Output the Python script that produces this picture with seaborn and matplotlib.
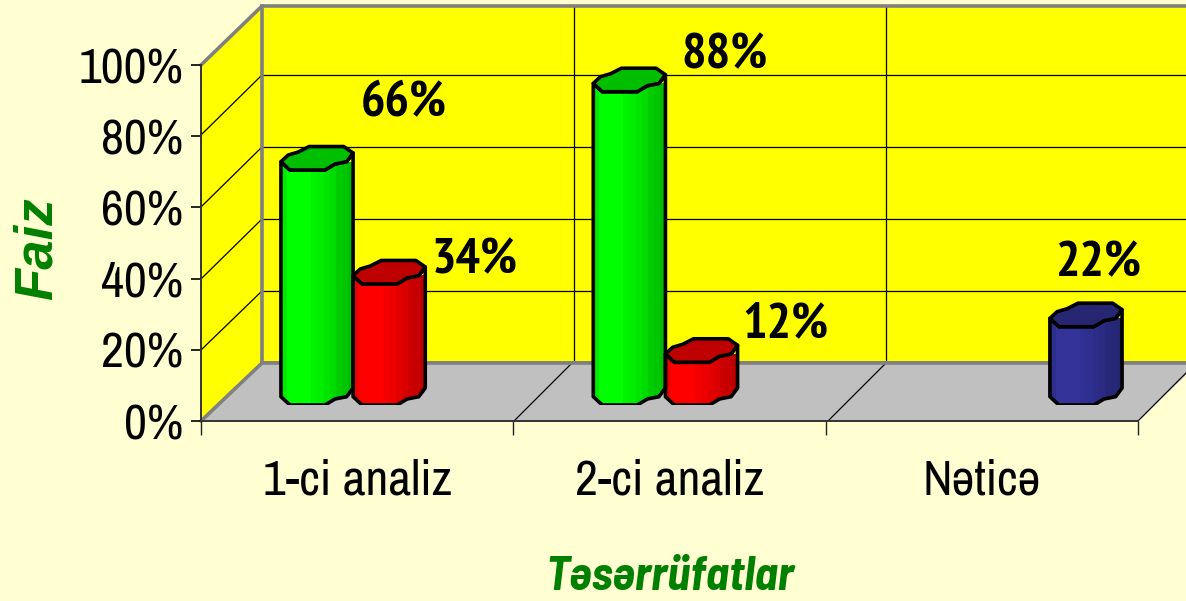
import numpy as np
import pandas as pd
import matplotlib.pyplot as plt
from matplotlib.patches import Polygon
import seaborn as sns

# data
kateqoriyalar = ['1-ci analiz', '2-ci analiz', 'Nəticə']
seriya_adlari = ['A', 'B', 'C']
seriya_a = [66, 88, np.nan]
seriya_b = [34, 12, np.nan]
seriya_c = [np.nan, np.nan, 22]
y_ticks = [0, 20, 40, 60, 80, 100]

W, H = 1186, 601
BG = '#FFFFD2'
NARROW = ['Archivo Narrow', 'Liberation Sans', 'DejaVu Sans']
BOLD = ['PT Sans Narrow', 'Liberation Sans', 'DejaVu Sans']
TITLE = ['Barlow Semi Condensed', 'Liberation Sans', 'DejaVu Sans']

sns.set_theme(style='white')
plt.rcParams['font.family'] = NARROW

df = pd.DataFrame({
    'kat': kateqoriyalar * 3,
    'seriya': [s for s in seriya_adlari for _ in kateqoriyalar],
    'faiz': seriya_a + seriya_b + seriya_c,
})


def rect(x0, x1, y_top, y_bot):
    return [x0 / W, 1 - y_bot / H, (x1 - x0) / W, (y_bot - y_top) / H]


fig = plt.figure(figsize=(W / 100, H / 100), dpi=100, facecolor=BG)

# left wall in pixel coords
bg = fig.add_axes([0, 0, 1, 1], zorder=0)
bg.set_xlim(0, W)
bg.set_ylim(H, 0)
bg.axis('off')
bg.add_patch(Polygon([(201, 65), (262, 6), (262, 363), (201, 421)], fc='#FFFF00', ec='none'))
for y0, y1 in zip([350, 279, 207, 135], [291, 219, 147, 75]):
    bg.plot([201, 262], [y0, y1], color='black', lw=0.9)
bg.plot([201, 262], [65, 6], color='#808080', lw=2.6)

# back wall
wall = fig.add_axes(rect(262, W, 6, 363), zorder=1, facecolor='#FFFF00')
wall.set_xlim(-0.497, 2.46)
wall.set_ylim(0, 99)
wall.set_xticks([0.5, 1.5])
wall.set_yticks([20, 40, 60, 80])
wall.tick_params(length=0, labelleft=False, labelbottom=False)
wall.grid(True, color='black', lw=0.9)
for s in ['left', 'top', 'bottom']:
    wall.spines[s].set_color('#808080')
    wall.spines[s].set_linewidth(2.6)
wall.spines['right'].set_visible(False)

# floor, on top of the wall's lower edge
floor = fig.add_axes([0, 0, 1, 1], zorder=2, facecolor='none')
floor.set_xlim(0, W)
floor.set_ylim(H, 0)
floor.axis('off')
floor.add_patch(Polygon([(201, 421), (262, 363), (1186, 363), (1186, 375), (1138, 421)], fc='#C0C0C0', ec='none'))
for x0, x1 in [(514, 573), (828, 886), (1138, 1186)]:
    floor.plot([x0, x1], [421, 421 - (x1 - x0)], color='black', lw=0.9)
floor.plot([262, 1186], [363, 363], color='#808080', lw=2.6)
floor.plot([201, 262], [421, 363], color='#808080', lw=2.6)

# front axis with the ticks and labels
ax = fig.add_axes(rect(201, 1138, 65, 421), zorder=3, facecolor='none')
ax.set_xlim(-0.5, 2.5)
ax.set_ylim(0, 100)
ax.set_xticks(range(3))
ax.set_xticklabels(kateqoriyalar, fontsize=36)
ax.set_xticks([-0.5, 0.5, 1.5, 2.5], minor=True)
ax.set_yticks(y_ticks)
ax.set_yticklabels([f'{v}%' for v in y_ticks], fontsize=36)
ax.tick_params(axis='x', which='major', length=0, pad=27, colors='black')
ax.tick_params(axis='x', which='minor', length=10, width=1, color='#222222', bottom=True)
ax.tick_params(axis='y', length=7, width=1.2, pad=6, left=True, colors='black')
for s in ['top', 'right']:
    ax.spines[s].set_visible(False)
ax.spines['left'].set_color('#333333')
ax.spines['left'].set_linewidth(1.4)
ax.spines['bottom'].set_color('#333333')
ax.spines['bottom'].set_linewidth(1.4)

# bars, shifted back onto the floor
ax_bar = fig.add_axes(rect(233, 1170, 49, 405), zorder=4, facecolor='none')
sns.barplot(data=df, x='kat', y='faiz', hue='seriya', hue_order=seriya_adlari,
            palette=['#00FF00', '#FF0000', '#333399'], width=0.693, gap=0,
            legend=False, saturation=1, ax=ax_bar)
ax_bar.axis('off')

# cylinder outline: (fraction of width, pixels above the front edge)
on_kenar = [(0, 8.3), (.125, 0), (.61, 0), (.75, 6), (.91, 8.3), (1, 17)]
arxa_kenar = [(.89, 22.5), (.87, 23.5), (.39, 23.5), (.24, 18), (.10, 15)]
kolge = np.array([.92, 1, 1, 1, 1, .96, .94, .90, .86, .80, .78, .74])[None, :, None]
px = 100 / 356

for bar in list(ax_bar.patches):
    v = bar.get_height()
    if not v > 0:
        continue
    x, w = bar.get_x(), bar.get_width()
    rgb = np.array(bar.get_facecolor()[:3])
    taban = [(x + u * w, d * px) for u, d in on_kenar]
    ust = [(x + u * w, v + d * px) for u, d in on_kenar]
    qapaq = ust + [(x + u * w, v + d * px) for u, d in arxa_kenar]
    govde = Polygon(taban + ust[::-1], closed=True, fc='none', ec='black', lw=2.6,
                    joinstyle='round', zorder=5)
    ax_bar.add_patch(govde)
    bar.set_clip_path(govde)
    bar.set_zorder(3)
    img = ax_bar.imshow(kolge * rgb[None, None, :], extent=(x, x + w, 0, v + 8 * px),
                        aspect='auto', zorder=4, interpolation='nearest')
    img.set_clip_path(govde)
    ax_bar.add_patch(Polygon(qapaq, closed=True, fc=rgb * .75,
                             ec='black', lw=2.6, joinstyle='round', zorder=6))
ax_bar.set_xlim(-0.5, 2.5)
ax_bar.set_ylim(0, 100)

# value labels
etiketler = [seriya_a[0], seriya_b[0], seriya_a[1], seriya_b[1], seriya_c[2]]
etiket_yeri = [(404, 104), (475, 261), (724, 56), (785, 325), (1098, 264)]
top = fig.add_axes([0, 0, 1, 1], zorder=5, facecolor='none')
top.set_xlim(0, W)
top.set_ylim(H, 0)
top.axis('off')
for val, (xp, yp) in zip(etiketler, etiket_yeri):
    top.text(xp, yp, f'{val:.0f}%', ha='center', va='center', fontsize=37, fontweight='bold',
             family=BOLD, color='black')

# axis titles
top.text(670, 577, 'Təsərrüfatlar', ha='center', va='center', fontsize=34,
         fontweight='bold', fontstyle='italic', family=TITLE, color='#008000')
top.text(38, 249, 'Faiz', ha='center', va='center', rotation=90, fontsize=38,
         fontweight='bold', fontstyle='italic', family=['Liberation Sans', 'DejaVu Sans'], color='#008000')

fig.savefig('out.png', dpi=100, facecolor=BG)
